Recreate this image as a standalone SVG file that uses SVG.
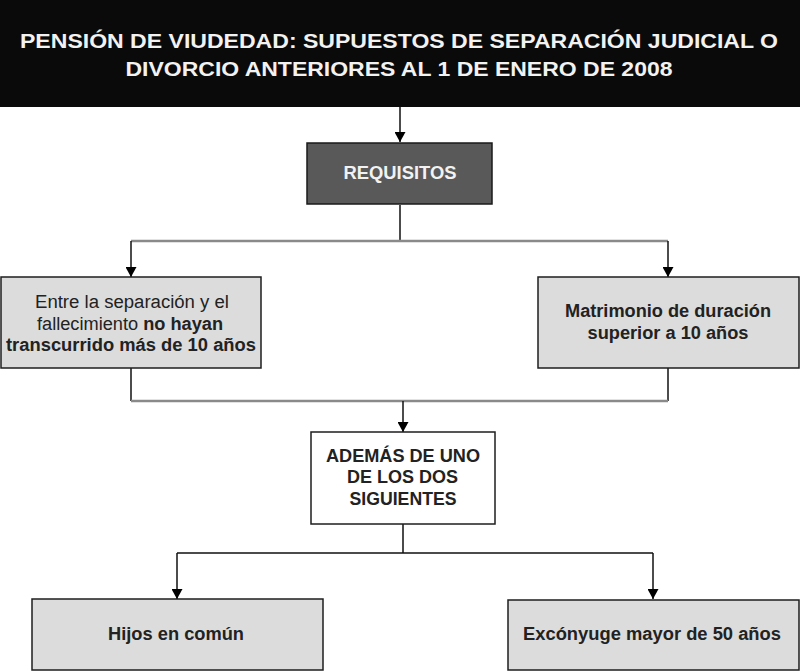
<svg xmlns="http://www.w3.org/2000/svg" width="800" height="671" viewBox="0 0 800 671">
<defs>
<marker id="ah" markerUnits="userSpaceOnUse" markerWidth="11" markerHeight="11" refX="10" refY="5.5" orient="auto">
<path d="M0,0 L10,5.5 L0,11 Z" fill="#000"/>
</marker>
<style>
.t{font-family:"Liberation Sans",Arial,sans-serif;text-anchor:middle;}
.box{fill:#dcdcdc;stroke:#1e1e1e;stroke-width:1.5;}
.dark{fill:#222;font-size:18px;}
.b{font-weight:bold;}
.ln{fill:none;stroke:#111;stroke-width:1.5;}
.gl{fill:none;stroke:#8a8a8a;stroke-width:2.5;}
</style>
</defs>
<rect width="800" height="671" fill="#fff"/>
<g id="connectors">
<path class="ln" d="M400,107 V142" marker-end="url(#ah)"/>
<path class="ln" d="M400,205 V241"/>
<path class="gl" d="M131,241 H668"/>
<path class="ln" d="M131,241 V277" marker-end="url(#ah)"/>
<path class="ln" d="M668,241 V277" marker-end="url(#ah)"/>
<path class="ln" d="M131,368 V401"/>
<path class="ln" d="M668,368 V401"/>
<path class="gl" d="M131,401 H668"/>
<path class="ln" d="M403,401 V432" marker-end="url(#ah)"/>
<path class="ln" d="M403,524 V553 M177,553 H653"/>
<path class="ln" d="M177,553 V599" marker-end="url(#ah)"/>
<path class="ln" d="M653,553 V599" marker-end="url(#ah)"/>
</g>
<g id="title">
<rect x="0" y="0" width="800" height="107" fill="#0a0a0a"/>
<text class="t b" x="399" y="48" font-size="20" fill="#f2f2f2" textLength="758" lengthAdjust="spacingAndGlyphs">PENSIÓN DE VIUDEDAD: SUPUESTOS DE SEPARACIÓN JUDICIAL O</text>
<text class="t b" x="399" y="76" font-size="20" fill="#f2f2f2" textLength="547" lengthAdjust="spacingAndGlyphs">DIVORCIO ANTERIORES AL 1 DE ENERO DE 2008</text>
</g>
<g id="requisitos">
<rect x="307" y="143" width="185" height="61" fill="#595959" stroke="#1a1a1a" stroke-width="1.5"/>
<text class="t b" x="400" y="179" font-size="18" fill="#f2f2f2" textLength="113" lengthAdjust="spacingAndGlyphs">REQUISITOS</text>
</g>
<g id="separacion">
<rect class="box" x="1" y="277" width="260" height="91"/>
<text class="t dark" x="132" y="308" textLength="194" lengthAdjust="spacingAndGlyphs">Entre la separación y el</text>
<text class="t dark" x="130" y="330" textLength="186" lengthAdjust="spacingAndGlyphs">fallecimiento <tspan font-weight="bold">no hayan</tspan></text>
<text class="t dark b" x="131" y="351" textLength="250" lengthAdjust="spacingAndGlyphs">transcurrido más de 10 años</text>
</g>
<g id="matrimonio">
<rect class="box" x="538" y="277" width="261" height="91"/>
<text class="t dark b" x="668" y="317" textLength="206" lengthAdjust="spacingAndGlyphs">Matrimonio de duración</text>
<text class="t dark b" x="668" y="339" textLength="161" lengthAdjust="spacingAndGlyphs">superior a 10 años</text>
</g>
<g id="ademas">
<rect x="311" y="432" width="184" height="92" fill="#fff" stroke="#1e1e1e" stroke-width="1.5"/>
<text class="t dark b" x="403" y="462" textLength="154" lengthAdjust="spacingAndGlyphs">ADEMÁS DE UNO</text>
<text class="t dark b" x="402.5" y="483" textLength="111" lengthAdjust="spacingAndGlyphs">DE LOS DOS</text>
<text class="t dark b" x="403" y="505" textLength="107" lengthAdjust="spacingAndGlyphs">SIGUIENTES</text>
</g>
<g id="hijos">
<rect class="box" x="32" y="599" width="291" height="71"/>
<text class="t dark b" x="176" y="640" textLength="136" lengthAdjust="spacingAndGlyphs">Hijos en común</text>
</g>
<g id="exconyuge">
<rect class="box" x="508" y="600" width="291" height="70"/>
<text class="t dark b" x="652" y="640" textLength="258" lengthAdjust="spacingAndGlyphs">Excónyuge mayor de 50 años</text>
</g>
</svg>
